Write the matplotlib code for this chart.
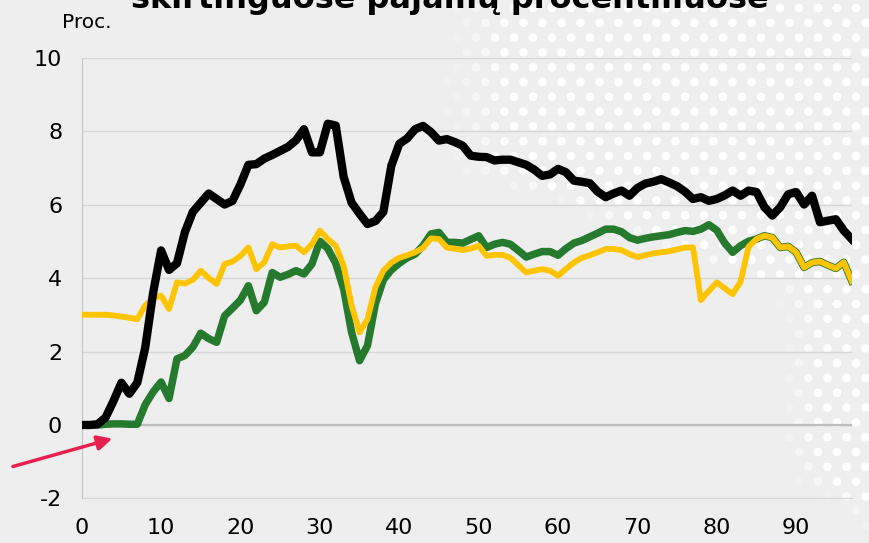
import numpy as np
import matplotlib
matplotlib.use("Agg")
import matplotlib.pyplot as plt

# percentiles (x axis)
pct = list(range(0, 98))

black = [0, 0, 0.02, 0.2, 0.65, 1.15, 0.85, 1.15, 2.1, 3.6,
         4.75, 4.22, 4.4, 5.25, 5.8, 6.05, 6.3, 6.15, 6.0, 6.1,
         6.55, 7.08, 7.1, 7.25, 7.35, 7.46, 7.57, 7.75, 8.05, 7.42,
         7.42, 8.2, 8.15, 6.75, 6.05, 5.75, 5.47, 5.55, 5.8, 7.05,
         7.65, 7.8, 8.05, 8.14, 7.97, 7.74, 7.78, 7.7, 7.6, 7.33,
         7.3, 7.29, 7.2, 7.22, 7.22, 7.15, 7.08, 6.95, 6.78, 6.82,
         6.97, 6.88, 6.65, 6.62, 6.58, 6.35, 6.2, 6.3, 6.38, 6.24,
         6.45, 6.57, 6.62, 6.69, 6.6, 6.5, 6.35, 6.15, 6.2, 6.1,
         6.15, 6.25, 6.38, 6.24, 6.38, 6.34, 5.93, 5.7, 5.93, 6.28,
         6.34, 6.0, 6.24, 5.52, 5.56, 5.6, 5.29, 5.06]

yellow = [3.0, 3.0, 3.0, 3.0, 2.98, 2.95, 2.92, 2.88, 3.25, 3.45,
          3.52, 3.16, 3.88, 3.85, 3.95, 4.2, 4.0, 3.84, 4.38, 4.45,
          4.6, 4.83, 4.24, 4.43, 4.92, 4.83, 4.86, 4.88, 4.7, 4.92,
          5.29, 5.06, 4.88, 4.33, 3.25, 2.52, 2.88, 3.75, 4.2, 4.42,
          4.55, 4.62, 4.7, 4.82, 5.08, 5.06, 4.83, 4.8, 4.76, 4.8,
          4.88, 4.6, 4.63, 4.63, 4.55, 4.35, 4.15, 4.2, 4.24, 4.2,
          4.06, 4.25, 4.42, 4.55, 4.62, 4.7, 4.79, 4.79, 4.76, 4.65,
          4.57, 4.62, 4.67, 4.7, 4.73, 4.78, 4.83, 4.83, 3.4, 3.65,
          3.88, 3.72, 3.56, 3.9, 4.85, 5.06, 5.15, 5.1, 4.83, 4.86,
          4.7, 4.29, 4.42, 4.45, 4.35, 4.26, 4.43, 3.92]

green = [0, 0, 0, 0.02, 0.03, 0.03, 0.02, 0.02, 0.55, 0.9,
         1.17, 0.72, 1.8, 1.89, 2.12, 2.5, 2.35, 2.25, 2.97, 3.18,
         3.4, 3.79, 3.11, 3.34, 4.15, 4.02, 4.1, 4.2, 4.11, 4.38,
         5.0, 4.8, 4.4, 3.7, 2.52, 1.75, 2.16, 3.3, 3.95, 4.22,
         4.4, 4.55, 4.65, 4.88, 5.2, 5.24, 4.97, 4.97, 4.95, 5.05,
         5.15, 4.83, 4.92, 4.97, 4.92, 4.75, 4.57, 4.65, 4.72, 4.72,
         4.62, 4.8, 4.95, 5.02, 5.12, 5.22, 5.33, 5.33, 5.26, 5.1,
         5.03, 5.08, 5.12, 5.15, 5.18, 5.24, 5.29, 5.27, 5.33, 5.45,
         5.3, 4.95, 4.7, 4.88, 5.0, 5.06, 5.15, 5.1, 4.83, 4.86,
         4.7, 4.29, 4.42, 4.45, 4.35, 4.26, 4.43, 3.92]

xticks = list(range(0, 100, 10))
yticks = list(range(-2, 12, 2))

fig = plt.figure(figsize=(8.7, 5.43), dpi=100)
fig.patch.set_facecolor('#eeeeee')

# dotted background decoration (top right)
bg = fig.add_axes([0, 0, 1, 1], zorder=-1)
bg.set_xlim(0, 870)
bg.set_ylim(543, 0)
bg.axis('off')
edge_y = [0, 120, 170, 210, 250, 290, 330, 440, 480, 500, 543]
edge_x = [490, 485, 500, 590, 680, 790, 800, 795, 810, 840, 900]
dx, dy = [], []
da = []
for k in range(37):
    yy = 8 + 14.8 * k
    lim = np.interp(yy, edge_y, edge_x)
    fade = 40 if yy < 200 else 15
    for j in range(50):
        xx = 400 + 19 * j + (k % 2) * 9.5
        if xx > lim - fade:
            dx.append(xx)
            dy.append(yy)
            da.append(min(1.0, max(0.2, (xx - lim + fade) / (fade + 20))))
cols = [(1, 1, 1, a) for a in da]
bg.scatter(dx, dy, s=38, c=cols, marker='o', linewidths=0)

ax = fig.add_axes([0.0939, 0.082, 0.979 - 0.0939, 0.894 - 0.082])
ax.set_facecolor('none')

ax.plot(pct, green, color='#267a2e', lw=5.4, solid_joinstyle='round', zorder=3)
ax.plot(pct, yellow, color='#ffc400', lw=4.2, solid_joinstyle='round', zorder=4)
ax.plot(pct, black, color='#000000', lw=6.0, solid_joinstyle='round', zorder=5)

ax.set_xlim(0, 97)
ax.set_ylim(-2, 10)
ax.set_xticks(xticks)
ax.set_yticks(yticks)
ax.set_yticklabels([str(t) for t in yticks])
ax.tick_params(length=0, labelsize=16, pad=14)
ax.grid(axis='y', color='#d6d6d6', lw=1)
ax.axhline(0, color='#bdbdbd', lw=1.6, zorder=2)
for s in ['top', 'right']:
    ax.spines[s].set_visible(False)
ax.spines['left'].set_color('#c4c4c4')
ax.spines['bottom'].set_color('#d6d6d6')

ax.annotate('', xy=(4.2, -0.35), xytext=(-9.0, -1.15),
            arrowprops=dict(arrowstyle='-|>', color='#e8204f', lw=2.5,
                            mutation_scale=22),
            annotation_clip=False)

fig.text(62 / 870, 1 - 22 / 543, 'Proc.', fontsize=14.5, va='center', ha='left')
fig.text(450 / 870, 1 - 8 / 543, 'skirtinguose pajamų procentiliuose',
         fontsize=23, fontweight='bold', ha='center', va='baseline')

fig.savefig('out.png', dpi=100, facecolor=fig.get_facecolor())
